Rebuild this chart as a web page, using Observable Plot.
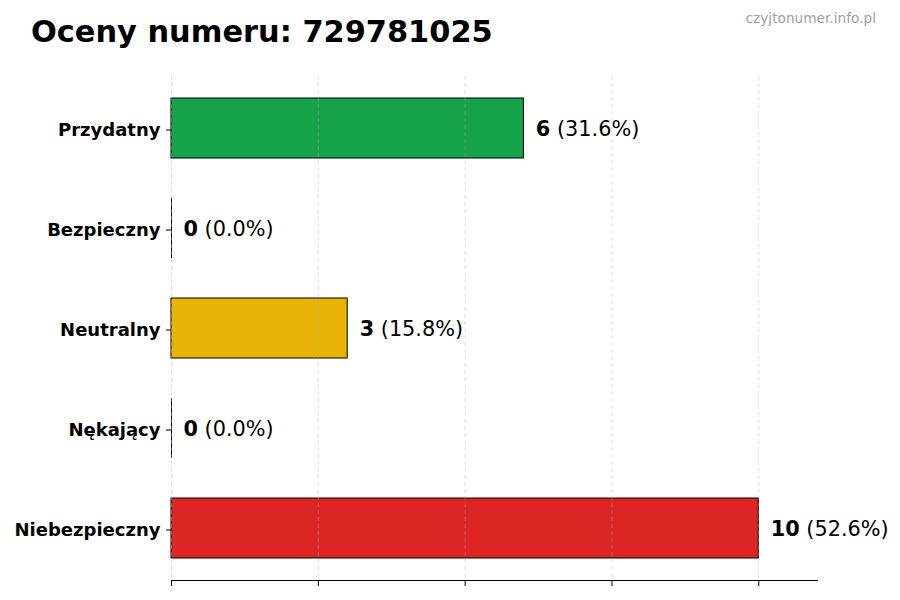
<!DOCTYPE html>
<html>
<head>
<meta charset="utf-8">
<script src="https://cdn.jsdelivr.net/npm/d3@7"></script>
<script src="https://cdn.jsdelivr.net/npm/@observablehq/plot@0.6"></script>
<style>
  body { margin: 0; background: #fff; font-family: "DejaVu Sans", sans-serif; }
  #wrap { width: 900px; }
  #head { position: relative; height: 60px; }
  #title { position: absolute; left: 31px; top: 17px; margin: 0; font-size: 30.4px; line-height: 1; font-weight: bold; color: #000; white-space: nowrap; }
  #mark { position: absolute; right: 24px; top: 12px; font-size: 13.7px; line-height: 1; color: #a0a0a0; }
</style>
</head>
<body>
<div id="wrap">
  <div id="head">
    <div id="title">Oceny numeru: 729781025</div>
    <div id="mark">czyjtonumer.info.pl</div>
  </div>
  <div id="chart"></div>
</div>
<script>
const categories = ["Przydatny", "Bezpieczny", "Neutralny", "Nękający", "Niebezpieczny"];
const counts = [6, 0, 3, 0, 10];
const colors = ["#16a34a", "#9ca3af", "#eab308", "#f97316", "#dc2626"];
const xTicks = [0, 2.5, 5, 7.5, 10];

const total = d3.sum(counts);
const data = categories.map((c, i) => ({
  label: c,
  value: counts[i],
  color: colors[i],
  text: `${counts[i]} (${(counts[i] / total * 100).toFixed(1)}%)`
}));

const plot = Plot.plot({
  width: 900,
  height: 540,
  marginTop: 16,
  marginBottom: 20,
  marginLeft: 171,
  marginRight: 83,
  style: { fontFamily: "DejaVu Sans, sans-serif", background: "#fff", color: "#000" },
  x: { domain: [0, 11], label: null },
  y: { domain: categories, padding: 0.4, paddingOuter: 0.22, label: null },
  marks: [
    Plot.barX(data, { x: "value", y: "label", fill: "color", stroke: "#000", strokeWidth: 1 }),
    Plot.tickX(data.filter(d => d.value === 0), { x: "value", y: "label", stroke: "#000", strokeWidth: 1 }),
    Plot.gridX(xTicks, { stroke: "#b0b0b0", strokeOpacity: 0.5, strokeDasharray: "4,3", strokeWidth: 0.8 }),
    Plot.frame({ anchor: "bottom", stroke: "#000", strokeWidth: 1 }),
    Plot.axisX(xTicks, { tickSize: 6, tickFormat: () => "", stroke: "#000", label: null }),
    Plot.axisY({ tickSize: 5, tickPadding: 6, fontSize: 18, fontWeight: "bold", fill: "#000", label: null, dy: 1.5 }),
    Plot.text(data, { x: "value", y: "label", text: "text", textAnchor: "start", dx: 12, dy: 1, fontSize: 20.8, fill: "#000" })
  ]
});

plot.querySelectorAll("text").forEach(t => {
  const s = t.textContent;
  if (!/^\d+ \(/.test(s)) return;
  const i = s.indexOf(" ");
  while (t.firstChild) t.removeChild(t.firstChild);
  const a = document.createElementNS("http://www.w3.org/2000/svg", "tspan");
  a.setAttribute("font-weight", "bold");
  a.style.fontWeight = "bold";
  a.textContent = s.slice(0, i);
  const b = document.createElementNS("http://www.w3.org/2000/svg", "tspan");
  b.textContent = s.slice(i);
  t.appendChild(a);
  t.appendChild(b);
});

document.getElementById("chart").appendChild(plot);
</script>
</body>
</html>
